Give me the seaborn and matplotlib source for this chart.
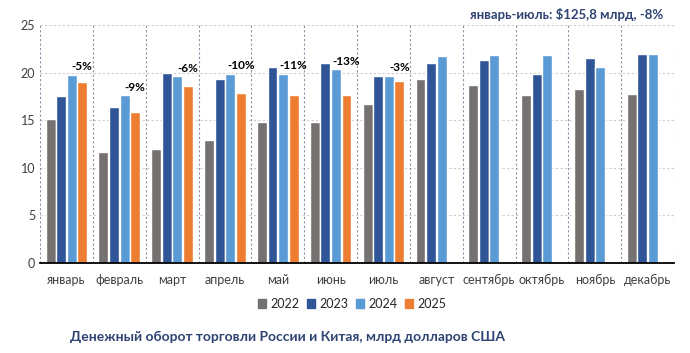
import seaborn as sns
import matplotlib.pyplot as plt
import pandas as pd
import numpy as np

months = ["январь", "февраль", "март", "апрель", "май", "июнь", "июль",
          "август", "сентябрь", "октябрь", "ноябрь", "декабрь"]
years = ["2022", "2023", "2024", "2025"]

v2022 = [15.1, 11.7, 12.0, 12.9, 14.8, 14.8, 16.7, 19.3, 18.7, 17.7, 18.3, 17.8]
v2023 = [17.5, 16.4, 20.0, 19.3, 20.6, 21.0, 19.7, 21.0, 21.3, 19.9, 21.5, 22.0]
v2024 = [19.8, 17.6, 19.6, 19.9, 19.9, 20.4, 19.7, 21.8, 21.9, 21.9, 20.6, 22.0]
v2025 = [19.0, 15.9, 18.6, 17.9, 17.7, 17.7, 19.1, np.nan, np.nan, np.nan, np.nan, np.nan]
changes = ["-5%", "-9%", "-6%", "-10%", "-11%", "-13%", "-3%"]

colors = {"2022": "#767171", "2023": "#2F5597", "2024": "#5B9BD5", "2025": "#ED7D31"}
navy = "#2E4372"

rows = []
for y, vals in zip(years, [v2022, v2023, v2024, v2025]):
    for m, v in zip(months, vals):
        rows.append({"month": m, "year": y, "value": v})
df = pd.DataFrame(rows)

sns.set_style("white")
plt.rcParams["font.family"] = ["Lato", "DejaVu Sans"]

fig = plt.figure(figsize=(6.9, 3.53), dpi=100)
ax = fig.add_axes([0.058, 0.255, 0.919, 0.674])

sns.barplot(data=df, x="month", y="value", hue="year", order=months,
            hue_order=years, palette=colors, width=0.8, gap=0.06,
            saturation=1, legend=False, ax=ax)

ax.set_ylim(0, 25)
ax.set_xlim(-0.5, len(months) - 0.5)
ax.set_yticks([0, 5, 10, 15, 20, 25])
ax.set_xlabel("")
ax.set_ylabel("")
for s in ["top", "right", "left"]:
    ax.spines[s].set_visible(False)
ax.spines["bottom"].set_color("black")
ax.spines["bottom"].set_linewidth(1.3)
ax.tick_params(axis="both", length=0, labelsize=9, colors="#404040")
ax.tick_params(axis="x", pad=8)

for yv in [5, 10, 15, 20, 25]:
    ax.axhline(yv, color="#CCCCCC", ls=(0, (2, 2)), lw=0.8, zorder=0)
for xv in np.arange(-0.5, len(months), 1.0):
    ax.axvline(xv, color="#8A94A6", ls=(0, (2, 2)), lw=0.8, zorder=0)

# percent change labels above 2025 bars
bars25 = ax.containers[3]
for i, lab in enumerate(changes):
    p = bars25[i]
    xc = p.get_x() + p.get_width() / 2
    top = max(v2024[i], v2025[i]) + 0.8
    ax.text(xc, top, lab, ha="center", va="center", fontsize=8.5,
            fontweight="bold", color="black")

handles = [plt.Rectangle((0, 0), 1, 1, color=colors[y]) for y in years]
fig.legend(handles, years, loc="center", bbox_to_anchor=(0.51, 0.14), ncol=4,
           frameon=False, fontsize=9, handlelength=0.7, handleheight=0.7,
           handletextpad=0.3, columnspacing=0.6)

fig.text(0.961, 0.958, "январь-июль: $125,8 млрд, -8%", ha="right", va="center",
         fontsize=9.5, fontweight="bold", color=navy)
fig.text(0.102, 0.045, "Денежный оборот торговли России и Китая, млрд долларов США",
         ha="left", va="center", fontsize=10, fontweight="bold", color=navy)

fig.savefig("out.png", dpi=100)
